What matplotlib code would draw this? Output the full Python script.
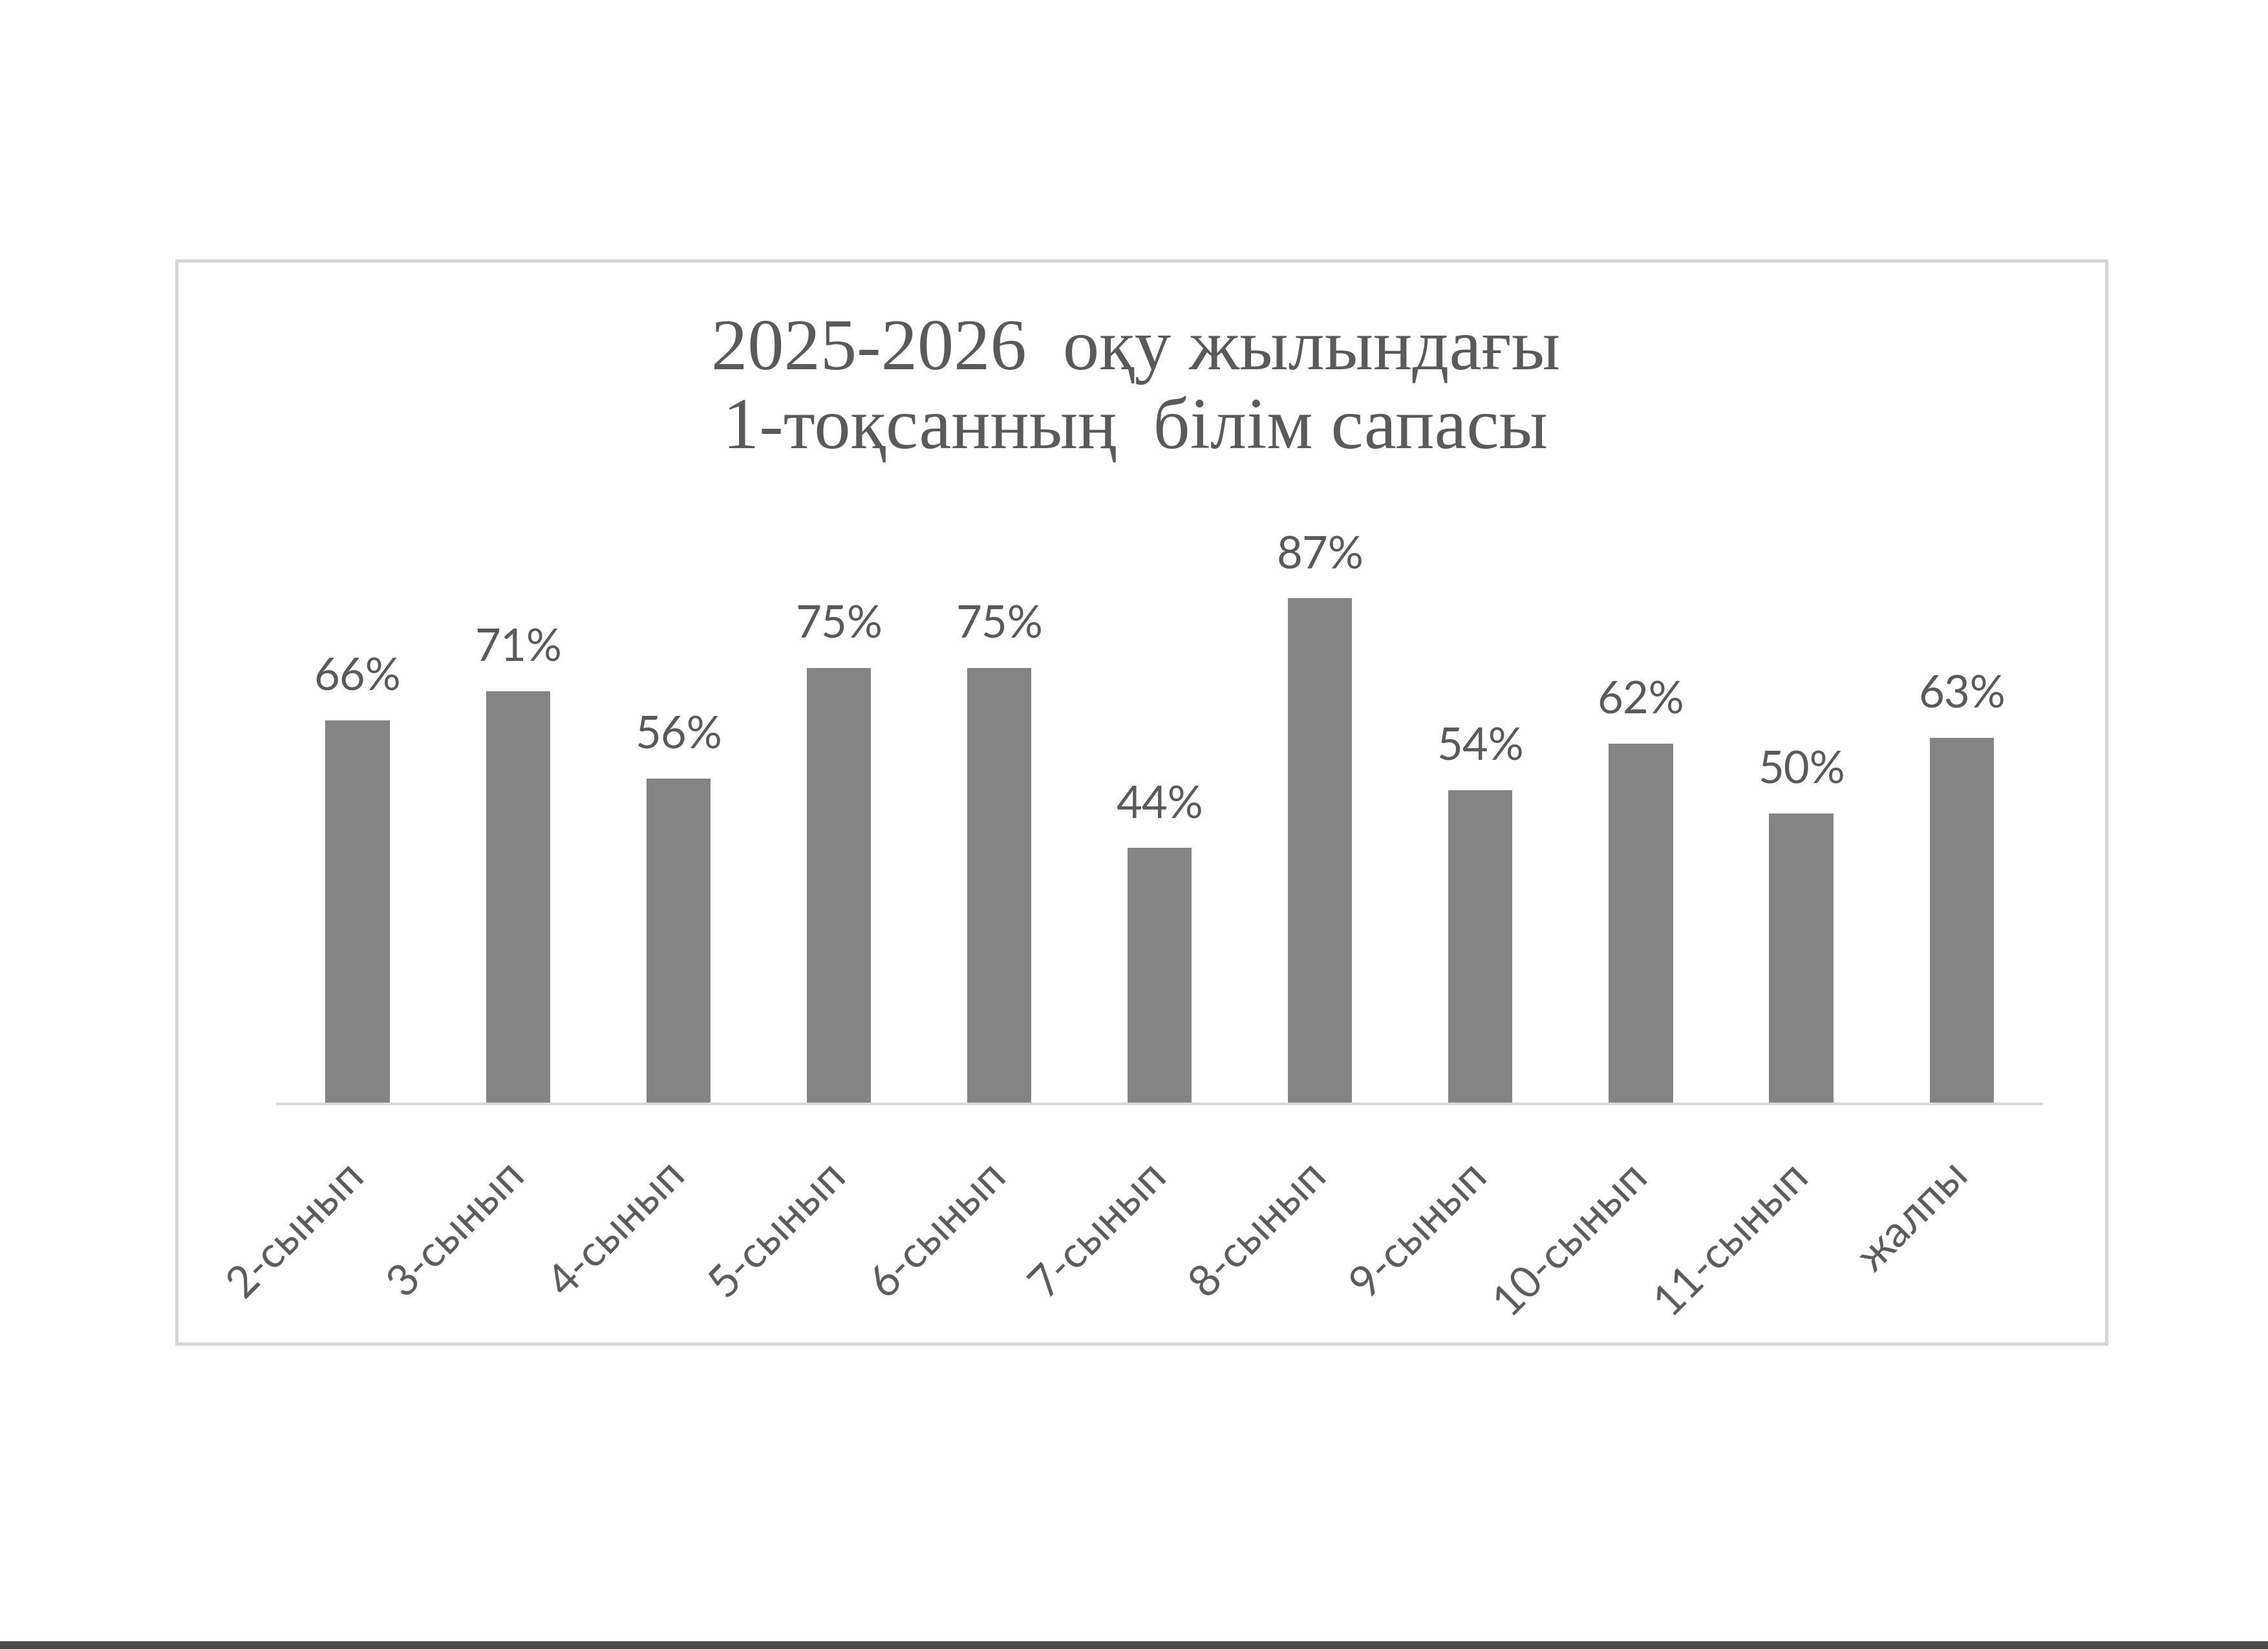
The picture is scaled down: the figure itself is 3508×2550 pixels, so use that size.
import matplotlib.pyplot as plt
from matplotlib.patches import Rectangle

# data
classes = ['2-сынып', '3-сынып', '4-сынып', '5-сынып', '6-сынып', '7-сынып',
           '8-сынып', '9-сынып', '10-сынып', '11-сынып', 'жалпы']
quality = [66, 71, 56, 75, 75, 44, 87, 54, 62, 50, 63]
title_lines = ['2025-2026  оқу жылындағы', '1-тоқсанның  білім сапасы']

TEXT = '#5a5a5a'
BAR = '#848484'

fig = plt.figure(figsize=(3508 / 300, 2550 / 300), dpi=300)
fig.patch.set_facecolor('white')

# chart frame (light grey border of the pasted chart)
fig.add_artist(Rectangle((0.0778, 0.185), 0.851, 0.657, transform=fig.transFigure,
                         fill=False, edgecolor='#d6d6d6', lw=1.2))
# dark scanner edge at the bottom of the page
fig.add_artist(Rectangle((0, 0), 1, 12 / 2550, transform=fig.transFigure,
                         facecolor='#4a4a4a', edgecolor='none'))

fig.text(0.5006, 0.7627, '\n'.join(title_lines), ha='center', va='center',
         multialignment='center', family='Liberation Serif', fontsize=27,
         color=TEXT, linespacing=1.24)

ax = fig.add_axes([0.1223, 0.3306, 0.778, 0.3525])
x = range(len(classes))
ax.bar(x, quality, width=0.40, color=BAR, zorder=2)
for xi, v in zip(x, quality):
    ax.annotate(f'{v}%', (xi, v), xytext=(0, 11), textcoords='offset points',
                ha='center', va='baseline', family='Lato', fontsize=16.5, color=TEXT)

ax.set_xlim(-0.5, len(classes) - 0.5)
ax.set_ylim(0, 100)
ax.set_yticks([])
ax.set_xticks(list(x))
ax.set_xticklabels(classes, rotation=45, ha='right', va='center',
                   rotation_mode='anchor', family='Lato', fontsize=16, color=TEXT)
ax.tick_params(axis='x', length=0, pad=24)
for s in ['top', 'left', 'right']:
    ax.spines[s].set_visible(False)
ax.spines['bottom'].set_color('#d9d9d9')
ax.spines['bottom'].set_linewidth(1.0)

fig.savefig('out.png', dpi=300, facecolor='white')
